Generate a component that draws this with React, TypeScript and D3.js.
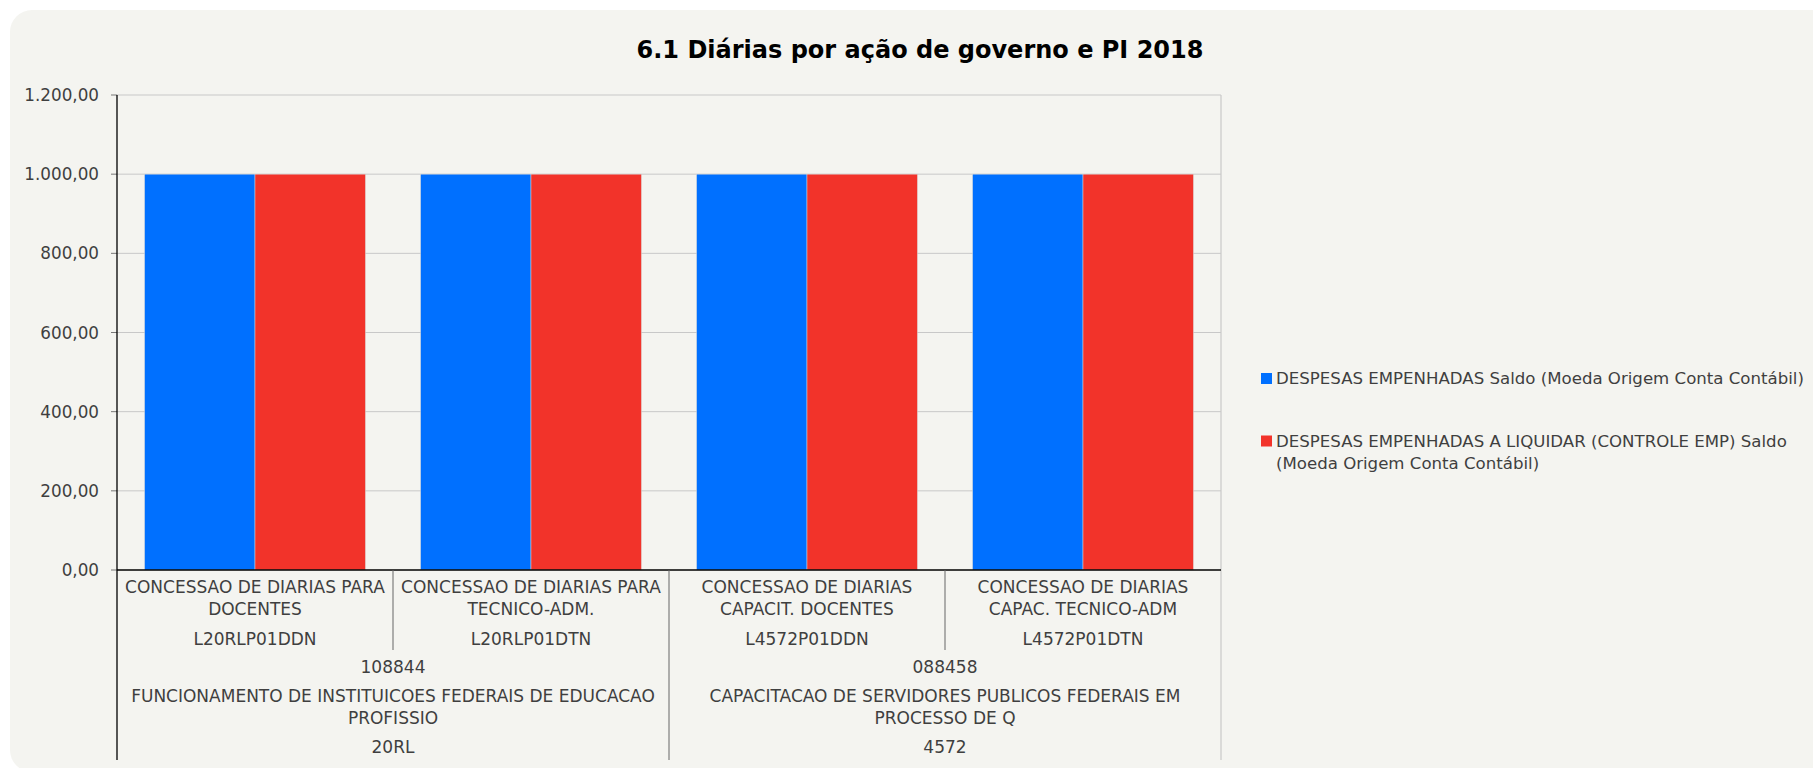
import React from "react";
import * as d3 from "d3";

const categoryNames = [
  "CONCESSAO DE DIARIAS PARA|DOCENTES",
  "CONCESSAO DE DIARIAS PARA|TECNICO-ADM.",
  "CONCESSAO DE DIARIAS|CAPACIT. DOCENTES",
  "CONCESSAO DE DIARIAS|CAPAC. TECNICO-ADM",
];
const categoryCodes = ["L20RLP01DDN", "L20RLP01DTN", "L4572P01DDN", "L4572P01DTN"];
const categoryGroup = [0, 0, 1, 1];
const groupCodes = ["108844", "088458"];
const groupNames = [
  "FUNCIONAMENTO DE INSTITUICOES FEDERAIS DE EDUCACAO|PROFISSIO",
  "CAPACITACAO DE SERVIDORES PUBLICOS FEDERAIS EM|PROCESSO DE Q",
];
const groupIds = ["20RL", "4572"];
const seriesNames = [
  "DESPESAS EMPENHADAS Saldo (Moeda Origem Conta Contábil)",
  "DESPESAS EMPENHADAS A LIQUIDAR (CONTROLE EMP) Saldo|(Moeda Origem Conta Contábil)",
];
const empenhadas = [1000, 1000, 1000, 1000];
const aLiquidar = [1000, 1000, 1000, 1000];
const yTicks = [0, 200, 400, 600, 800, 1000, 1200];
const title = "6.1 Diárias por ação de governo e PI 2018";

const colors = ["#0070ff", "#f2332a"];
const FONT = "'DejaVu Sans', Verdana, sans-serif";
const LABEL = "#3f3f3f";

export default function App() {
  const W = 1813, H = 768;
  const left = 117, right = 1221, top = 95, bottom = 570;
  const axisBottom = 760;
  const lh = 22.3;
  const FS = 17;

  const loc = d3.formatLocale({ decimal: ",", thousands: ".", grouping: [3], currency: ["R$", ""] });
  const fmt = loc.format(",.2f");

  const y = d3.scaleLinear().domain([0, 1200]).range([bottom, top]);
  const x0 = d3.scaleBand<number>().domain(d3.range(categoryNames.length)).range([left, right]).padding(0);
  const x1 = d3.scaleBand<number>().domain([0, 1]).range([0, x0.bandwidth()]).paddingInner(0).paddingOuter(0.25);
  const series = [empenhadas, aLiquidar];

  const groups = groupCodes.map((_, g) => {
    const idx = categoryGroup.map((gg, i) => (gg === g ? i : -1)).filter((i) => i >= 0);
    const x = x0(idx[0])!;
    const x2 = x0(idx[idx.length - 1])! + x0.bandwidth();
    return { x, x2, cx: (x + x2) / 2 };
  });

  return (
    <svg width={W} height={H} style={{ position: "absolute", left: 0, top: 0 }} fontFamily={FONT}>
      <rect x={0} y={0} width={W} height={H} fill="#ffffff" />
      <rect x={10} y={10} width={W + 40} height={762} rx={22} ry={22} fill="#f4f4f0" />
      <text x={920} y={50} textAnchor="middle" dominantBaseline="central" fontSize={24} fontWeight="bold" fill="#000">
        {title}
      </text>

      {/* grid */}
      {yTicks.map((t) => (
        <g key={t}>
          {t > 0 && <line x1={left} x2={right} y1={y(t)} y2={y(t)} stroke="#c8c8c8" strokeWidth={1} />}
          <line x1={left - 6} x2={left} y1={y(t)} y2={y(t)} stroke="#777" strokeWidth={1} />
          <text x={99} y={y(t)} textAnchor="end" dominantBaseline="central" fontSize={16.8} fill={LABEL}>
            {fmt(t)}
          </text>
        </g>
      ))}
      <line x1={right} x2={right} y1={top} y2={axisBottom} stroke="#c8c8c8" strokeWidth={1.2} />

      {/* bars */}
      {categoryNames.map((_, i) => (
        <g key={i}>
          {series.map((s, k) => (
            <rect
              key={k}
              x={x0(i)! + x1(k)!}
              y={y(s[i])}
              width={x1.bandwidth()}
              height={y(0) - y(s[i])}
              fill={colors[k]}
              stroke="#d8d8d8"
              strokeWidth={0.5}
            />
          ))}
        </g>
      ))}

      {/* axes */}
      <line x1={left} x2={left} y1={top} y2={axisBottom} stroke="#000" strokeWidth={1.3} />
      <line x1={left} x2={right} y1={bottom} y2={bottom} stroke="#000" strokeWidth={1.3} />

      {/* category labels */}
      {categoryNames.map((name, i) => {
        const cx = x0(i)! + x0.bandwidth() / 2;
        const lines = name.split("|");
        return (
          <g key={i}>
            {lines.map((l, j) => (
              <text key={j} x={cx} y={586.7 + j * lh} textAnchor="middle" dominantBaseline="central" fontSize={FS} fill={LABEL}>
                {l}
              </text>
            ))}
            <text x={cx} y={639} textAnchor="middle" dominantBaseline="central" fontSize={FS} fill={LABEL}>
              {categoryCodes[i]}
            </text>
            {i > 0 && categoryGroup[i] === categoryGroup[i - 1] && (
              <line x1={x0(i)!} x2={x0(i)!} y1={bottom} y2={650} stroke="#666" strokeWidth={1} />
            )}
          </g>
        );
      })}

      {/* group labels */}
      {groups.map((g, gi) => (
        <g key={gi}>
          <text x={g.cx} y={667} textAnchor="middle" dominantBaseline="central" fontSize={FS} fill={LABEL}>
            {groupCodes[gi]}
          </text>
          {groupNames[gi].split("|").map((l, j) => (
            <text key={j} x={g.cx} y={696 + j * 21.5} textAnchor="middle" dominantBaseline="central" fontSize={FS} fill={LABEL}>
              {l}
            </text>
          ))}
          <text x={g.cx} y={747} textAnchor="middle" dominantBaseline="central" fontSize={FS} fill={LABEL}>
            {groupIds[gi]}
          </text>
          {gi > 0 && <line x1={g.x} x2={g.x} y1={bottom} y2={axisBottom} stroke="#666" strokeWidth={1} />}
        </g>
      ))}

      {/* legend */}
      {seriesNames.map((s, k) => {
        const cy = k === 0 ? 378.5 : 441;
        return (
          <g key={k}>
            <rect x={1261} y={cy - 5.5} width={11} height={11} fill={colors[k]} />
            {s.split("|").map((l, j) => (
              <text key={j} x={1276} y={cy + j * 22} dominantBaseline="central" fontSize={16.6} fill={LABEL}>
                {l}
              </text>
            ))}
          </g>
        );
      })}
    </svg>
  );
}
